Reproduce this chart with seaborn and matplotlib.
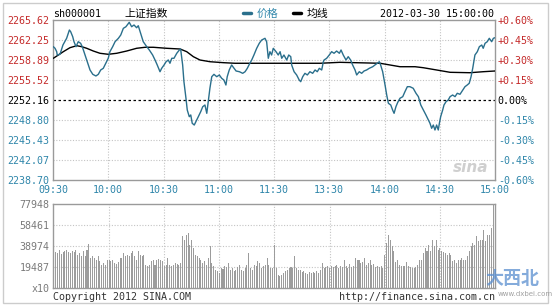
import matplotlib
matplotlib.use("Agg")
import matplotlib.pyplot as plt
import seaborn as sns
import pandas as pd
from matplotlib.lines import Line2D
from matplotlib.patches import Rectangle

# ---------------- data ----------------
price_minutes = [0.2, 1.1, 2.0, 2.3, 3.8, 5.4, 7.4, 8.9, 9.6, 10.7, 11.4, 12.5, 13.7, 15.0, 15.9, 17.4,
                 18.6, 20.1, 21.6, 23.3, 24.6, 25.9, 27.3, 28.2, 30.0, 30.9, 32.4, 33.7, 35.5, 36.8, 38.2,
                 39.6, 41.4, 42.7, 44.0, 45.4, 46.3, 47.6, 49.0, 50.9, 52.3, 54.1, 55.4, 56.6, 58.1, 59.0,
                 60.3, 61.4, 62.6, 63.5, 64.5, 65.7, 67.2, 68.6, 69.3, 70.4, 71.1, 72.2, 72.9, 74.0, 74.8,
                 75.6, 76.7, 77.6, 78.9, 80.2, 81.3, 82.5, 83.5, 84.3, 85.2, 86.2, 87.4, 88.9, 90.3, 91.6,
                 92.8, 93.9, 94.6, 95.7, 97.0, 98.3, 99.4, 101.2, 103.0, 104.3, 105.5, 106.6, 107.9, 109.1,
                 110.6, 112.0, 113.3, 115.1, 116.0, 116.9, 117.8, 118.7, 119.6, 121.1, 122.3, 123.3, 124.2,
                 125.4, 126.9, 128.0, 129.1, 129.6, 130.9, 132.3, 133.7, 134.5, 135.6, 136.8, 138.1, 139.5,
                 141.0, 142.3, 143.5, 144.6, 145.9, 146.8, 147.2, 148.6, 150.0, 151.3, 152.6, 154.0, 155.5,
                 156.4, 157.6, 159.1, 160.3, 161.6, 162.7, 164.0, 164.9, 166.3, 167.6, 168.9, 170.3, 171.7,
                 173.6, 174.8, 176.1, 177.2, 177.9, 179.0, 180.3, 181.2, 182.1, 183.4, 184.4, 185.2, 186.2,
                 187.2, 188.4, 189.9, 191.1, 192.4, 193.8, 195.6, 197.1, 198.4, 199.7, 201.1, 202.5, 203.8,
                 204.7, 205.6, 206.5, 207.4, 208.3, 209.2, 209.8, 210.5, 211.6, 212.3, 213.4, 214.6, 215.6,
                 217.0, 218.3, 219.5, 221.0, 222.5, 223.7, 224.9, 226.0, 227.0, 227.9, 229.1, 230.4, 231.5,
                 232.8, 233.6, 234.6, 235.8, 236.9, 238.2, 239.1, 240.0]
price_values = [2261.13, 2260.86, 2260.29, 2259.73, 2259.85, 2261.41, 2262.54, 2263.94, 2263.65, 2262.81,
                2261.97, 2261.13, 2261.97, 2261.70, 2261.13, 2259.73, 2258.60, 2257.21, 2256.48, 2256.20,
                2256.48, 2257.21, 2257.49, 2258.05, 2259.18, 2260.29, 2261.13, 2261.97, 2262.54, 2263.10,
                2264.22, 2264.49, 2265.23, 2264.49, 2264.78, 2264.32, 2264.66, 2263.38, 2261.97, 2261.13,
                2260.57, 2259.73, 2258.89, 2258.05, 2256.92, 2257.49, 2258.05, 2258.60, 2258.89, 2258.34,
                2259.18, 2259.18, 2260.02, 2260.57, 2260.74, 2258.05, 2255.24, 2252.45, 2250.48, 2249.35,
                2249.64, 2248.24, 2247.95, 2248.51, 2249.35, 2250.19, 2251.03, 2251.32, 2249.92, 2251.87,
                2254.13, 2256.08, 2256.48, 2256.08, 2256.37, 2255.81, 2255.52, 2254.68, 2256.08, 2257.21,
                2258.05, 2257.49, 2257.04, 2256.92, 2256.65, 2256.92, 2257.49, 2258.17, 2258.89, 2259.73,
                2260.86, 2261.70, 2262.25, 2262.54, 2261.97, 2259.18, 2260.29, 2259.73, 2260.86, 2260.29,
                2259.73, 2260.29, 2259.18, 2259.73, 2258.89, 2259.73, 2259.45, 2258.05, 2256.92, 2256.37,
                2255.52, 2255.24, 2256.08, 2256.65, 2256.37, 2256.92, 2256.65, 2257.21, 2256.92, 2257.49,
                2257.21, 2258.60, 2258.89, 2259.18, 2259.73, 2260.29, 2260.02, 2260.40, 2260.02, 2260.57,
                2259.73, 2258.89, 2259.45, 2258.89, 2258.05, 2257.21, 2256.37, 2256.92, 2256.65, 2257.04,
                2257.21, 2257.49, 2257.76, 2258.05, 2258.34, 2258.60, 2258.05, 2256.92, 2254.68, 2253.00,
                2251.61, 2251.32, 2250.48, 2249.92, 2251.03, 2251.77, 2252.45, 2252.72, 2253.56, 2254.40,
                2254.40, 2254.13, 2253.29, 2252.72, 2251.32, 2250.48, 2249.64, 2248.80, 2248.24, 2247.40,
                2247.95, 2247.11, 2247.95, 2247.11, 2248.24, 2249.35, 2250.48, 2251.32, 2251.87, 2252.16,
                2252.72, 2253.00, 2252.72, 2253.29, 2253.12, 2253.84, 2254.40, 2254.68, 2254.97, 2256.08,
                2257.49, 2259.73, 2260.29, 2261.13, 2261.41, 2260.86, 2261.70, 2261.97, 2262.54, 2261.97,
                2262.54, 2262.64]

avg_minutes = [0.2, 2.9, 5.6, 9.2, 12.9, 15.6, 18.3, 21.9, 25.5, 30.0, 34.6, 40.0, 45.4, 50.0, 54.5, 61.7,
               69.0, 72.6, 76.2, 79.8, 85.3, 92.5, 98.8, 123.3, 145.0, 155.8, 177.6, 183.0, 188.4, 196.6,
               201.1, 208.3, 215.6, 226.4, 233.6, 240.0]
avg_values = [2259.18, 2259.73, 2260.29, 2260.96, 2261.30, 2261.13, 2260.86, 2260.40, 2260.02, 2259.85,
              2260.02, 2260.40, 2260.86, 2261.03, 2261.03, 2260.86, 2260.74, 2260.29, 2259.45, 2258.89,
              2258.60, 2258.44, 2258.34, 2258.34, 2258.34, 2258.50, 2258.34, 2258.05, 2257.76, 2257.76,
              2257.59, 2257.21, 2256.82, 2256.75, 2256.92, 2257.04]

volume_values = [
    75800, 33100, 32500, 35000, 31900, 33700, 34300, 35600, 33700, 32500,
    34300, 33100, 35600, 30900, 32500, 29400, 34000, 29400, 35600, 41100,
    27800, 29400, 27800, 26300, 29400, 24700, 21700, 23200, 21700, 26300,
    25700, 24700, 26300, 23200, 22600, 23800, 27800, 27800, 32500, 29400,
    30900, 29400, 32500, 34000, 29400, 26300, 34000, 30900, 29400, 30900,
    21700, 20100, 21700, 24700, 26300, 21700, 26300, 26900, 26300, 24700,
    20100, 21700, 27800, 21700, 20700, 21700, 23200, 22600, 21700, 23200,
    47900, 44800, 49500, 51000, 40200, 44800, 37100, 30900, 29400, 27800,
    25700, 23200, 24700, 21700, 27800, 39300, 23200, 20100, 17000, 15500,
    13900, 18600, 17600, 20100, 19500, 23200, 17000, 18600, 15500, 17000,
    19500, 21700, 17000, 15500, 18600, 21700, 32500, 18600, 17000, 21700,
    20100, 24700, 23200, 18600, 20100, 21700, 27800, 21700, 18600, 18600,
    40200, 18600, 12400, 11400, 12400, 13900, 15500, 17000, 18600, 19500,
    18600, 30000, 18600, 17000, 16400, 14500, 15500, 13900, 13300, 14500,
    13900, 14500, 13900, 15500, 13900, 17000, 23200, 18600, 19500, 20100,
    18600, 20700, 19500, 20100, 21700, 18600, 20100, 19500, 25700, 20100,
    18600, 22600, 19500, 20100, 27800, 26300, 26300, 23200, 23800, 27800,
    21700, 23200, 26300, 21700, 22600, 19500, 20700, 19500, 20100, 18600,
    30900, 41800, 49500, 44800, 38700, 34000, 23800, 26300, 21700, 20700,
    20100, 20700, 23800, 20100, 19500, 18600, 18600, 19500, 21700, 25700,
    26300, 32500, 37100, 34000, 40200, 34000, 44800, 38700, 44800, 35600,
    37100, 34000, 33100, 32500, 30900, 32500, 30900, 24700, 26300, 23200,
    26300, 26300, 27800, 26300, 26300, 29400, 34000, 38700, 41800, 40200,
    47900, 43300, 44800, 44800, 54100, 43300, 49500, 49500, 55700, 77900]

prev_close = 2252.16
price_ticks = [2238.70, 2242.07, 2245.43, 2248.80, 2252.16, 2255.52, 2258.89, 2262.25, 2265.62]
price_tick_labels = ["2238.70", "2242.07", "2245.43", "2248.80", "2252.16",
                     "2255.52", "2258.89", "2262.25", "2265.62"]
pct_labels = ["-0.60%", "-0.45%", "-0.30%", "-0.15%", "0.00%",
              "+0.15%", "+0.30%", "+0.45%", "+0.60%"]
time_ticks = [0, 30, 60, 90, 120, 150, 180, 210, 240]
time_labels = ["09:30", "10:00", "10:30", "11:00", "11:30", "13:30", "14:00", "14:30", "15:00"]
vol_ticks = [0, 19487, 38974, 58461, 77948]
vol_labels = ["x10", "19487", "38974", "58461", "77948"]

# ---------------- style ----------------
sns.set_theme(style="white")
plt.rcParams["font.family"] = ["DejaVu Sans Mono", "Noto Sans CJK SC"]

W, H = 552, 306
RED = "#c42a2a"
BLUE = "#2f86aa"
LINE = "#2a6f8c"
GRID = "#c4c4c4"
SPINE = "#9a9a9a"
FS = 7.2

fig = plt.figure(figsize=(W / 100, H / 100), dpi=100)
fig.patch.set_facecolor("white")


def fx(px):
    return px / W


def fy(py):
    return 1 - py / H


ax = fig.add_axes([fx(53), fy(180), fx(495) - fx(53), fy(20) - fy(180)])
axv = fig.add_axes([fx(53), fy(288), fx(495) - fx(53), fy(204) - fy(288)])

# ---------------- price panel ----------------
price_df = pd.DataFrame({"minute": price_minutes, "price": price_values})
avg_df = pd.DataFrame({"minute": avg_minutes, "price": avg_values})

for t in time_ticks[1:-1]:
    ax.axvline(t, color=GRID, lw=0.8, ls=(0, (1, 1.5)), zorder=1)
for p in price_ticks[1:-1]:
    if abs(p - prev_close) > 1e-6:
        ax.axhline(p, color=GRID, lw=0.8, ls=(0, (1, 1.5)), zorder=1)
ax.axhline(prev_close, color="black", lw=0.9, ls=(0, (2, 2)), zorder=2)

sns.lineplot(data=avg_df, x="minute", y="price", ax=ax, color="black", lw=1.0,
             estimator=None, sort=False, zorder=3)
sns.lineplot(data=price_df, x="minute", y="price", ax=ax, color=LINE, lw=1.0,
             estimator=None, sort=False, zorder=4)

ax.set_xlim(0, 240)
ax.set_ylim(price_ticks[0], price_ticks[-1])
ax.set_xlabel("")
ax.set_ylabel("")
ax.set_xticks(time_ticks)
ax.set_xticklabels(time_labels, fontsize=FS, color=BLUE)
ax.set_yticks(price_ticks)
ax.set_yticklabels(price_tick_labels, fontsize=FS)
for lab, p in zip(ax.get_yticklabels(), price_ticks):
    if p > prev_close + 1e-6:
        lab.set_color(RED)
    elif p < prev_close - 1e-6:
        lab.set_color(BLUE)
    else:
        lab.set_color("black")
ax.tick_params(axis="both", length=0)
ax.tick_params(axis="y", pad=2.5)
ax.tick_params(axis="x", pad=3.5)
for s in ax.spines.values():
    s.set_color(SPINE)
    s.set_linewidth(1.0)

ax2 = ax.twinx()
ax2.set_ylim(price_ticks[0], price_ticks[-1])
ax2.set_yticks(price_ticks)
ax2.set_yticklabels(pct_labels, fontsize=FS)
for lab, p in zip(ax2.get_yticklabels(), price_ticks):
    if p > prev_close + 1e-6:
        lab.set_color(RED)
    elif p < prev_close - 1e-6:
        lab.set_color(BLUE)
    else:
        lab.set_color("black")
ax2.tick_params(axis="y", length=0, pad=2)
for s in ax2.spines.values():
    s.set_visible(False)

# sina watermark
ax.text(0.945, 0.08, "sina", transform=ax.transAxes, fontsize=11, fontstyle="italic",
        fontweight="bold", color="#cfcfcf", family="DejaVu Sans", ha="center", va="center",
        zorder=0)

# ---------------- volume panel ----------------
vol_df = pd.DataFrame({"minute": list(range(len(volume_values))), "volume": volume_values})
for t in time_ticks[1:-1]:
    axv.axvline(t, color=GRID, lw=0.8, ls=(0, (1, 1.5)), zorder=0)
for v in vol_ticks[1:-1]:
    axv.axhline(v, color=GRID, lw=0.8, ls=(0, (1, 1.5)), zorder=0)
sns.barplot(data=vol_df, x="minute", y="volume", ax=axv, native_scale=True,
            color="#9c9c9c", width=0.55, linewidth=0, saturation=1, zorder=2)
axv.set_xlim(-0.5, 240)
axv.set_ylim(0, vol_ticks[-1])
axv.set_xlabel("")
axv.set_ylabel("")
axv.set_xticks(time_ticks)
axv.set_xticklabels([])
axv.set_yticks(vol_ticks)
axv.set_yticklabels(vol_labels, fontsize=FS, color="#7a7a7a")
axv.tick_params(axis="both", length=0)
axv.tick_params(axis="y", pad=2.5)
for s in axv.spines.values():
    s.set_color(SPINE)
    s.set_linewidth(1.0)

# ---------------- header ----------------
fig.text(fx(53), fy(14), "sh000001", fontsize=FS, color="black", va="center", ha="left")
fig.text(fx(124), fy(14), "上证指数", fontsize=7.8, color="black", va="center", ha="left",
         family=["Noto Sans CJK SC", "DejaVu Sans"])
fig.add_artist(Line2D([fx(243), fx(251)], [fy(13), fy(13)], color=LINE, lw=2.5))
fig.text(fx(257), fy(14), "价格", fontsize=7.8, color=BLUE, va="center", ha="left",
         family=["Noto Sans CJK SC", "DejaVu Sans"])
fig.add_artist(Line2D([fx(293), fx(301)], [fy(13), fy(13)], color="black", lw=2.5))
fig.text(fx(307), fy(14), "均线", fontsize=7.8, color="black", va="center", ha="left",
         family=["Noto Sans CJK SC", "DejaVu Sans"])
fig.text(fx(494), fy(14), "2012-03-30 15:00:00", fontsize=FS, color="black",
         va="center", ha="right")

# ---------------- footer ----------------
fig.text(fx(53), fy(297), "Copyright 2012 SINA.COM", fontsize=FS, color="#333333",
         va="center", ha="left")
fig.text(fx(495), fy(297), "http://finance.sina.com.cn", fontsize=FS, color="#333333",
         va="center", ha="right")
fig.text(fx(512), fy(279), "大西北", fontsize=13, color="#5b8fd0", alpha=0.75,
         va="center", ha="center", family=["Noto Sans CJK SC", "DejaVu Sans"], fontweight="bold")
fig.text(fx(498), fy(294), "www.dxbei.com", fontsize=5.0, color="#8a8a8a", alpha=0.8,
         va="center", ha="left", family="DejaVu Sans")

# outer border
fig.add_artist(Rectangle((fx(3), fy(303)), fx(548) - fx(3), fy(3) - fy(303),
                         fill=False, edgecolor="#cccccc", lw=1.0,
                         transform=fig.transFigure))

fig.savefig("out.png", dpi=100, facecolor="white")
